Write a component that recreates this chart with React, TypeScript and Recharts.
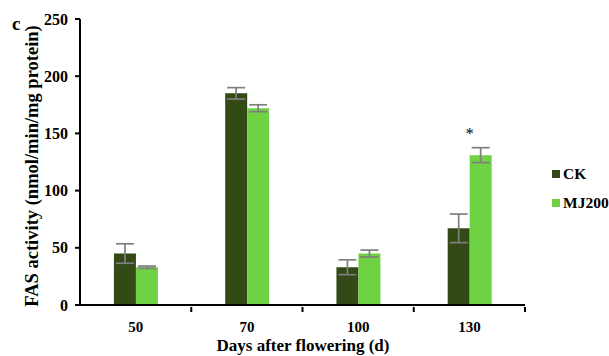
import React from 'react';
import { BarChart, Bar, XAxis, YAxis, ErrorBar, LabelList, Label } from 'recharts';

const categories = ['50', '70', '100', '130'];
const ckValues = [45, 185, 33, 67];
const ckErrors = [8.5, 5, 6.5, 12.5];
const mjValues = [33, 172, 45, 131];
const mjErrors = [1, 3, 3, 6.5];
const significance = ['', '', '', '*'];
const yTicks = [0, 50, 100, 150, 200, 250];
const seriesNames = ['CK', 'MJ200'];
const seriesColors = ['#334a16', '#6fd243'];

const data = categories.map((c, i) => ({
  day: c,
  ck: ckValues[i],
  ckErr: ckErrors[i],
  mj: mjValues[i],
  mjErr: mjErrors[i],
  sig: significance[i],
}));

const FONT = "'Liberation Serif', 'Times New Roman', serif";

const XTick = (props: any) => {
  const { x, y, payload } = props;
  const half = payload && payload.offset ? payload.offset : 55.6;
  return (
    <g>
      <line x1={x + half} y1={y - 6} x2={x + half} y2={y - 1} stroke="#000" strokeWidth={2} />
      <text x={x} y={y + 18.5} textAnchor="middle" fontFamily={FONT} fontWeight="bold" fontSize={15} fill="#000">
        {payload.value}
      </text>
    </g>
  );
};

const SigLabel = (props: any) => {
  const { x, y, width, value } = props;
  if (!value) return null;
  return (
    <text x={x + width / 2 - 11} y={y - 16} textAnchor="middle" fontFamily={FONT} fontSize={16} fill="#000">
      {value}
    </text>
  );
};

export default function App() {
  return (
    <div style={{ position: 'absolute', left: 0, top: 0, width: 609, height: 356, overflow: 'hidden', background: '#fff' }}>
      <BarChart
        width={609}
        height={356}
        data={data}
        margin={{ top: 19, right: 84, left: 0, bottom: 21 }}
        barCategoryGap="30.5%"
        barGap={0}
      >
        <XAxis
          dataKey="day"
          height={30}
          axisLine={{ stroke: '#000', strokeWidth: 2 }}
          tickLine={false}
          tick={<XTick />}
          interval={0}
        >
          <Label
            content={() => (
              <text x={303} y={351} textAnchor="middle" fontFamily={FONT} fontWeight="bold" fontSize={17} fill="#000">
                Days after flowering (d)
              </text>
            )}
          />
        </XAxis>
        <XAxis xAxisId="top" dataKey="day" orientation="top" height={0} tick={false} tickLine={false} axisLine={{ stroke: '#000', strokeWidth: 2 }} />
        <YAxis
          width={80}
          domain={[0, 250]}
          ticks={yTicks}
          interval={0}
          tickSize={5}
          tickMargin={7}
          axisLine={{ stroke: '#000', strokeWidth: 2 }}
          tickLine={{ stroke: '#000', strokeWidth: 2 }}
          tick={{ fontFamily: FONT, fontWeight: 'bold', fontSize: 16, fill: '#000' }}
        >
          <Label
            content={() => (
              <text
                x={32}
                y={166}
                transform="rotate(-90 32 166)"
                textAnchor="middle"
                dominantBaseline="central"
                fontFamily={FONT}
                fontWeight="bold"
                fontSize={18.5}
                fill="#000"
              >
                FAS activity (nmol/min/mg protein)
              </text>
            )}
          />
        </YAxis>
        <YAxis yAxisId="right" orientation="right" width={0} domain={[0, 250]} tick={false} tickLine={false} axisLine={{ stroke: '#000', strokeWidth: 2 }} />
        <Bar dataKey="ck" name={seriesNames[0]} fill={seriesColors[0]} isAnimationActive={false}>
          <ErrorBar dataKey="ckErr" width={9} stroke="#7f7f7f" strokeWidth={1.7} direction="y" />
        </Bar>
        <Bar dataKey="mj" name={seriesNames[1]} fill={seriesColors[1]} isAnimationActive={false}>
          <ErrorBar dataKey="mjErr" width={9} stroke="#7f7f7f" strokeWidth={1.7} direction="y" />
          <LabelList dataKey="sig" content={<SigLabel />} />
        </Bar>
      </BarChart>
      <div style={{ position: 'absolute', left: 12, top: 14, fontFamily: FONT, fontWeight: 'bold', fontSize: 19, lineHeight: '20px', color: '#000' }}>c</div>
      {seriesNames.map((name, i) => (
        <div
          key={name}
          style={{
            position: 'absolute',
            left: 552,
            top: i === 0 ? 165 : 194,
            height: 18,
            display: 'flex',
            alignItems: 'center',
            whiteSpace: 'nowrap',
            fontFamily: FONT,
            fontWeight: 'bold',
            fontSize: 15.5,
            color: '#000',
          }}
        >
          <span style={{ display: 'inline-block', width: 8, height: 8, background: seriesColors[i], marginRight: 3 }} />
          <span>{name}</span>
        </div>
      ))}
    </div>
  );
}
